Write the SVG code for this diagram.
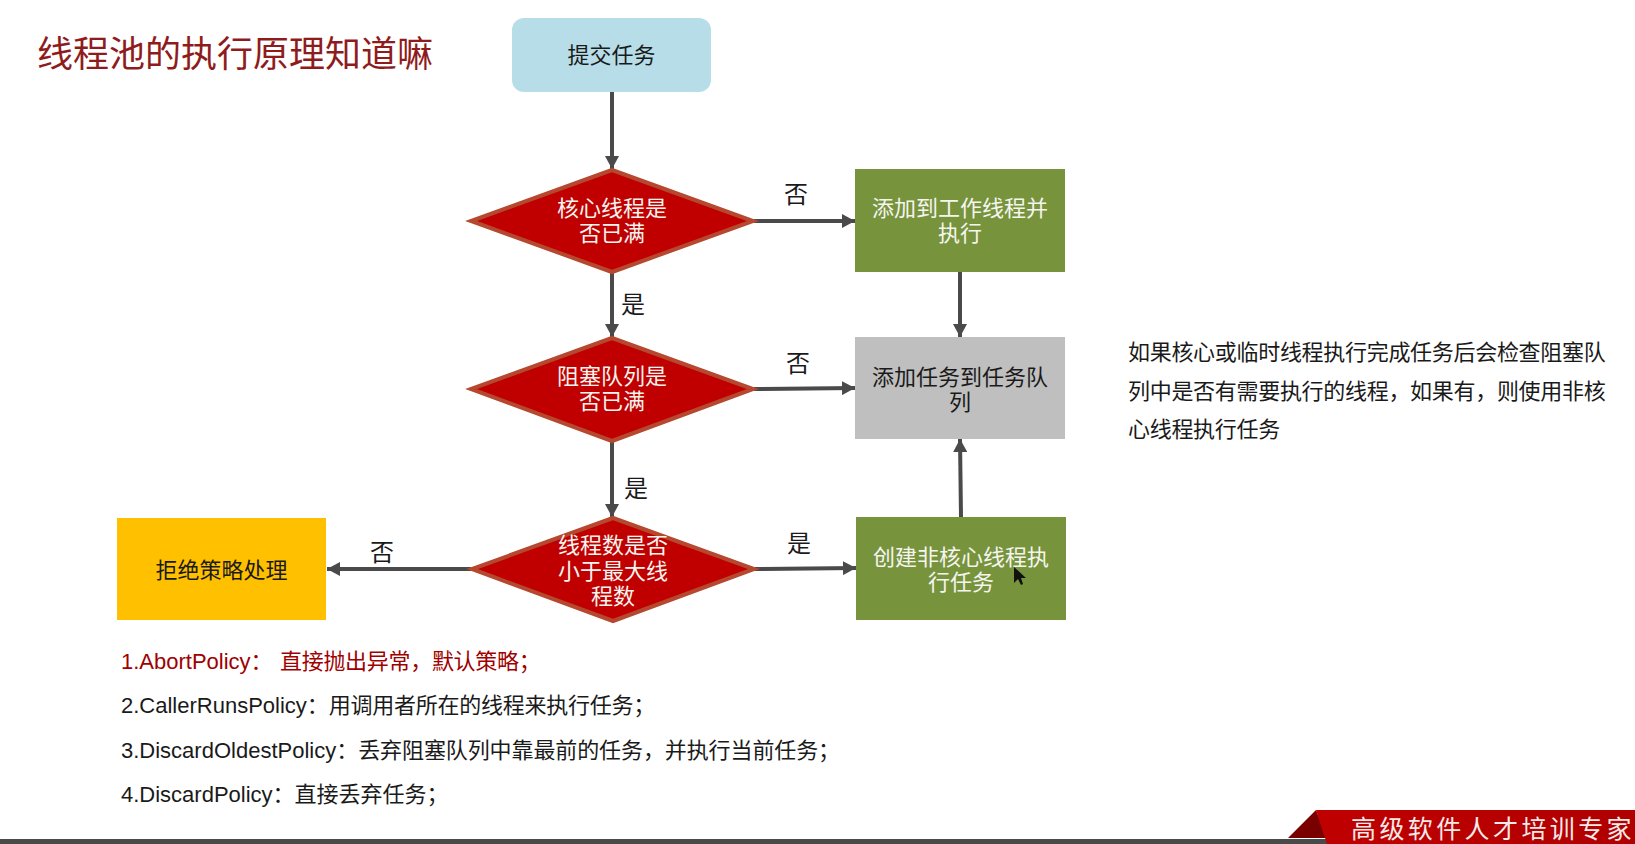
<svg xmlns="http://www.w3.org/2000/svg" width="1635" height="844" viewBox="0 0 1635 844">
<style>
text{font-family:"Noto Sans CJK SC","Liberation Sans",sans-serif;font-size:22px;fill:#1a1a1a}
.c{text-anchor:middle}
.w{fill:#f5f5f0}
.d{fill:#c00000;stroke:#b5482e;stroke-width:4}
.g{fill:#77933c}
.l{font-size:24px}
.p{font-family:"Liberation Sans","Noto Sans CJK SC",sans-serif}
.r{fill:#a00000}
.cn{stroke:#4a4a4a;stroke-width:4;fill:none;marker-end:url(#a)}
</style>
<defs>
<marker id="a" markerUnits="userSpaceOnUse" markerWidth="14" markerHeight="14" refX="13" refY="7" orient="auto"><path d="M0 0L13 7L0 14Z" fill="#4a4a4a"/></marker>
<linearGradient id="b" x1="0" x2="1" y1="0" y2="0"><stop offset="0" stop-color="#c00000"/><stop offset="1" stop-color="#b00000"/></linearGradient>
</defs>
<rect width="1635" height="844" fill="#fff"/>
<text id="title" x="37" y="67" style="font-size:36px;fill:#8f1c1c">线程池的执行原理知道嘛</text>
<g id="connectors">
<path class="cn" d="M612 92V169"/>
<path class="cn" d="M612 273V337"/>
<path class="cn" d="M612 442V517"/>
<path class="cn" d="M754 221H855"/>
<path class="cn" d="M754 389L855 388"/>
<path class="cn" d="M755 569L856 568"/>
<path class="cn" d="M471 569H327"/>
<path class="cn" d="M960 272V337"/>
<path class="cn" d="M961 517L960 439"/>
</g>
<g id="n-submit"><rect x="512" y="18" width="199" height="74" rx="12" fill="#b7dee8"/><text class="c" x="611.500" y="63">提交任务</text></g>
<g id="n-d1"><path class="d" d="M612 170L753 221L612 272L471 221Z"/><text class="c w" x="612" y="216">核心线程是</text><text class="c w" x="612" y="241">否已满</text></g>
<g id="n-d2"><path class="d" d="M612 338L753 389L612 441L471 389Z"/><text class="c w" x="612" y="384">阻塞队列是</text><text class="c w" x="612" y="409">否已满</text></g>
<g id="n-d3"><path class="d" d="M613 518L754 569L613 621L472 569Z"/><text class="c w" x="613" y="553">线程数是否</text><text class="c w" x="613" y="579">小于最大线</text><text class="c w" x="613" y="604">程数</text></g>
<g id="n-add-worker"><rect class="g" x="855" y="169" width="210" height="103"/><text class="c w" x="960" y="216">添加到工作线程并</text><text class="c w" x="960" y="241">执行</text></g>
<g id="n-add-queue"><rect x="855" y="337" width="210" height="102" fill="#bfbfbf"/><text class="c" x="960" y="385">添加任务到任务队</text><text class="c" x="960" y="410">列</text></g>
<g id="n-create"><rect class="g" x="856" y="517" width="210" height="103"/><text class="c w" x="961" y="565">创建非核心线程执</text><text class="c w" x="961" y="590">行任务</text></g>
<g id="n-reject"><rect x="117" y="518" width="209" height="102" fill="#ffc000"/><text class="c" x="221.500" y="578">拒绝策略处理</text></g>
<g id="labels">
<text class="c l" x="796" y="203">否</text>
<text class="c l" x="798" y="372">否</text>
<text class="c l" x="633" y="313">是</text>
<text class="c l" x="636" y="497">是</text>
<text class="c l" x="799" y="552">是</text>
<text class="c l" x="382" y="561">否</text>
</g>
<g id="note">
<text x="1128" y="360" style="letter-spacing:-0.3px">如果核心或临时线程执行完成任务后会检查阻塞队</text>
<text x="1128" y="399" style="letter-spacing:-0.3px">列中是否有需要执行的线程，如果有，则使用非核</text>
<text x="1128" y="437" style="letter-spacing:-0.3px">心线程执行任务</text>
</g>
<g id="policies">
<text class="p r" x="121" y="669">1.AbortPolicy：<tspan x="280" style="letter-spacing:-0.3px">直接抛出异常，默认策略；</tspan></text>
<text class="p" x="121" y="713">2.CallerRunsPolicy：<tspan style="letter-spacing:-0.25px">用调用者所在的线程来执行任务；</tspan></text>
<text class="p" x="121" y="758">3.DiscardOldestPolicy：<tspan style="letter-spacing:-0.1px">丢弃阻塞队列中靠最前的任务，并执行当前任务；</tspan></text>
<text class="p" x="121" y="802">4.DiscardPolicy：直接丢弃任务；</text>
</g>
<polygon id="cursor" points="1014,567 1014,583 1018,579 1021,585 1023,584 1021,578 1026,578" fill="#111"/>
<g id="footer">
<rect x="0" y="839" width="1635" height="5" fill="#4a4a4a"/>
<polygon points="1288,838 1316,810 1327,838" fill="#7a0000"/>
<polygon points="1316,810 1635,810 1635,844 1327,844" fill="url(#b)"/>
<text x="1351" y="838" style="font-size:25px;letter-spacing:3.400px;fill:#f5eaea">高级软件人才培训专家</text>
</g>
</svg>
